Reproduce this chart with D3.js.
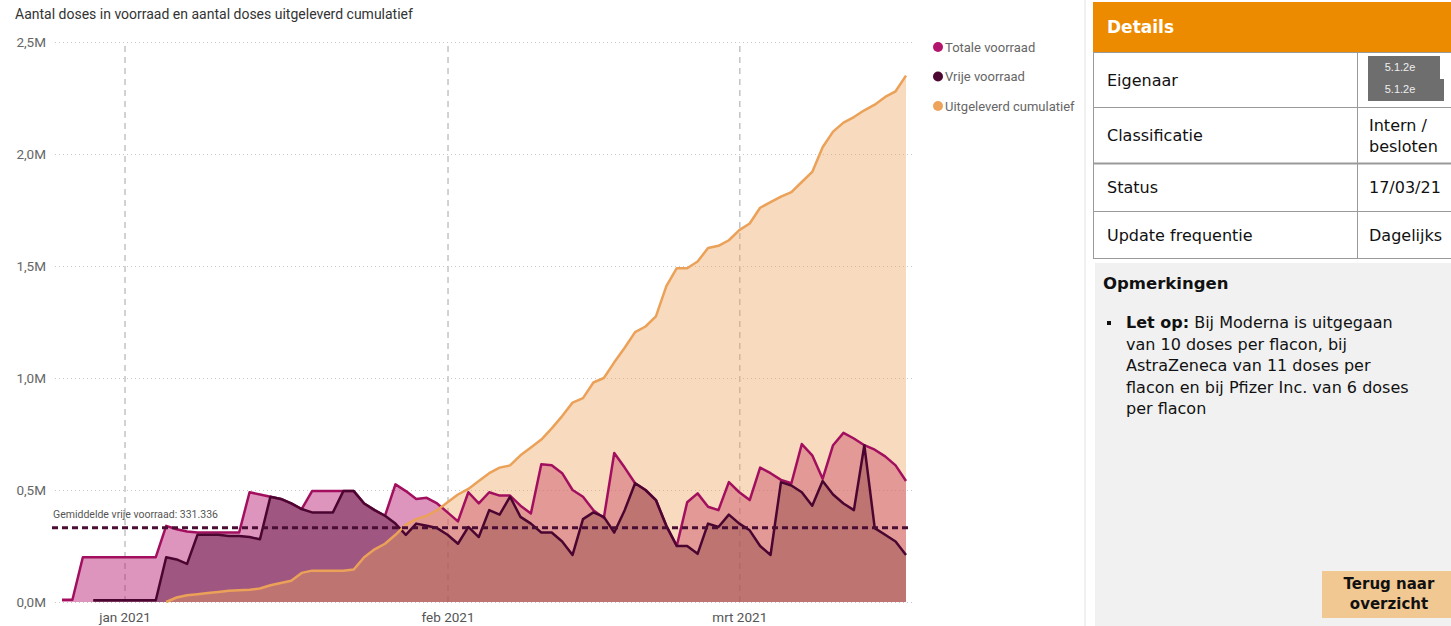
<!DOCTYPE html>
<html>
<head>
<meta charset="utf-8">
<script src="https://cdn.jsdelivr.net/npm/d3@7"></script>
<style>
  body { margin: 0; background: #fff; }
  svg { display: block; }
</style>
</head>
<body>
<div id="chart"></div>
<script>
// daily values, x1000 doses, starting 26 dec 2020
const startDate = new Date(2020, 11, 26);
const totaleVoorraad = [
  10, 10, 200, 200, 200, 200, 200, 200, 200, 200,
  340, 325, 315, 310, 310, 310, 310, 310, 490, 480,
  470, 460, 440, 415, 495, 495, 495, 495, 495, 440,
  410, 385, 525, 495, 460, 465, 440, 400, 360, 490,
  440, 490, 475, 475, 430, 395, 615, 610, 575, 500,
  470, 410, 375, 665, 600, 530, 500, 455, 340, 250,
  445, 485, 425, 410, 535, 490, 455, 600, 575, 545,
  530, 705, 655, 550, 700, 755, 730, 700, 680, 650,
  610, 540
];
const vrijeVoorraad = [
  null, null, null, 8, 8, 8, 8, 8, 8, 8,
  200, 190, 170, 300, 300, 300, 295, 295, 290, 280,
  470, 460, 440, 415, 400, 400, 400, 495, 495, 440,
  410, 385, 350, 300, 350, 340, 330, 300, 260, 335,
  290, 410, 390, 470, 380, 350, 310, 310, 270, 210,
  370, 400, 380, 310, 410, 530, 500, 455, 340, 250,
  250, 215, 350, 335, 390, 350, 320, 250, 210, 535,
  520, 490, 430, 540, 480, 440, 410, 700, 330, 300,
  270, 210
];
const uitgeleverdCumulatief = [
  null, null, null, null, null, null, null, null, null, null,
  0, 20, 30, 35, 40, 45, 50, 52, 55, 60,
  75, 85, 95, 130, 140, 140, 140, 140, 145, 200,
  235, 260, 300, 345, 370, 385, 410, 445, 480, 505,
  540, 575, 600, 610, 655, 690, 725, 775, 830, 890,
  910, 980, 1000, 1070, 1135, 1205, 1230, 1275, 1410, 1490,
  1490, 1520, 1580, 1590, 1615, 1660, 1690, 1760, 1785, 1810,
  1830, 1875, 1920, 2030, 2100, 2140, 2165, 2195, 2220, 2255,
  2280, 2350
];
const gemiddeldeVrij = 331336;

const monthTicks = [new Date(2021, 0, 1), new Date(2021, 1, 1), new Date(2021, 2, 1)];
const monthLabels = ["jan 2021", "feb 2021", "mrt 2021"];
const yTicks = [0, 500000, 1000000, 1500000, 2000000, 2500000];

const seriesNames = ["Totale voorraad", "Vrije voorraad", "Uitgeleverd cumulatief"];
const seriesColors = ["#b3156c", "#4d0733", "#eea35c"];

const detailRows = [
  ["Eigenaar", null],
  ["Classificatie", ["Intern /", "besloten"]],
  ["Status", ["17/03/21"]],
  ["Update frequentie", ["Dagelijks"]]
];

const width = 1451;
const height = 626;
const chartFont = "Roboto, 'Open Sans', sans-serif";
const panelFont = "'DejaVu Sans', Verdana, sans-serif";

const days = totaleVoorraad.map((_, i) => d3.timeDay.offset(startDate, i));
const rows = days.map((d, i) => ({
  date: d,
  totale: totaleVoorraad[i] * 1000,
  vrije: vrijeVoorraad[i] == null ? null : vrijeVoorraad[i] * 1000,
  uit: uitgeleverdCumulatief[i] == null ? null : uitgeleverdCumulatief[i] * 1000
}));

const svg = d3
  .select("#chart")
  .append("svg")
  .attr("width", width)
  .attr("height", height)
  .attr("viewBox", [0, 0, width, height]);

const x = d3.scaleTime().domain([days[0], days[days.length - 1]]).range([62, 906]);
const y = d3.scaleLinear().domain([0, 2500000]).range([602, 42]);

// title
svg.append("text")
  .attr("x", 15).attr("y", 19)
  .attr("font-family", chartFont).attr("font-size", 14)
  .attr("fill", "#333")
  .text("Aantal doses in voorraad en aantal doses uitgeleverd cumulatief");

// y axis + dotted grid
const yAxis = svg.append("g")
  .attr("transform", "translate(55,0)")
  .call(d3.axisLeft(y)
    .tickValues(yTicks)
    .tickSize(-860)
    .tickPadding(9)
    .tickFormat(d => (d / 1e6).toFixed(1).replace(".", ",") + "M"));
yAxis.select(".domain").remove();
yAxis.selectAll("line").attr("stroke", "#c8c8c8").attr("stroke-dasharray", "1,3");
yAxis.selectAll("text")
  .attr("font-family", chartFont).attr("font-size", 13.5).attr("fill", "#666");

// x axis + dashed month grid
const xAxis = svg.append("g")
  .attr("transform", "translate(0,602)")
  .call(d3.axisBottom(x)
    .tickValues(monthTicks)
    .tickSize(-560)
    .tickPadding(10)
    .tickFormat((d, i) => monthLabels[i]));
xAxis.select(".domain").remove();
xAxis.selectAll("line")
  .attr("stroke", "#c4c4c4").attr("stroke-width", 1.5).attr("stroke-dasharray", "6,5");
xAxis.selectAll("text")
  .attr("font-family", chartFont).attr("font-size", 13.5).attr("fill", "#555");

// areas
const keys = ["totale", "vrije", "uit"];
const areaOpacity = [0.45, 0.43, 0.4];
keys.forEach((k, i) => {
  const area = d3.area()
    .defined(d => d[k] != null)
    .x(d => x(d.date))
    .y0(y(0))
    .y1(d => y(d[k]));
  svg.append("path")
    .datum(rows)
    .attr("d", area)
    .attr("fill", seriesColors[i])
    .attr("fill-opacity", areaOpacity[i]);
});

// lines
const lineColors = ["#a30f5f", "#4a0630", "#eba158"];
keys.forEach((k, i) => {
  const line = d3.line()
    .defined(d => d[k] != null)
    .x(d => x(d.date))
    .y(d => y(d[k]));
  svg.append("path")
    .datum(rows)
    .attr("d", line)
    .attr("fill", "none")
    .attr("stroke", lineColors[i])
    .attr("stroke-width", 2.5)
    .attr("stroke-linejoin", "round");
});

// average line
svg.append("line")
  .attr("x1", 52).attr("x2", 912)
  .attr("y1", y(gemiddeldeVrij)).attr("y2", y(gemiddeldeVrij))
  .attr("stroke", "#4a0d33").attr("stroke-width", 3).attr("stroke-dasharray", "6,4");
svg.append("text")
  .attr("x", 53).attr("y", y(gemiddeldeVrij) - 10)
  .attr("font-family", chartFont).attr("font-size", 10.5).attr("fill", "#555")
  .text("Gemiddelde vrije voorraad: " + d3.format(",")(gemiddeldeVrij).replace(/,/g, "."));

// legend
const legend = svg.append("g").selectAll("g")
  .data(seriesNames)
  .join("g")
  .attr("transform", (d, i) => `translate(938,${47 + i * 29.5})`);
legend.append("circle").attr("r", 5).attr("fill", (d, i) => seriesColors[i]);
legend.append("text")
  .attr("x", 7).attr("y", 4.5)
  .attr("font-family", chartFont).attr("font-size", 13).attr("fill", "#666")
  .text(d => d);

// separator of the visual
svg.append("line")
  .attr("x1", 1085).attr("x2", 1085).attr("y1", 0).attr("y2", height)
  .attr("stroke", "#e2e2e2");

// ---- details panel ----
const px0 = 1093, pcol = 1357;
svg.append("rect").attr("x", px0).attr("y", 2).attr("width", width - px0).attr("height", 50).attr("fill", "#ed8b00");
svg.append("text")
  .attr("x", 1107).attr("y", 33)
  .attr("font-family", panelFont).attr("font-size", 17).attr("font-weight", "bold").attr("fill", "#fff")
  .text("Details");

const rowTops = [52, 107, 163, 211, 258];
const table = svg.append("g");
detailRows.forEach((r, i) => {
  const top = rowTops[i], bot = rowTops[i + 1];
  const mid = (top + bot) / 2;
  table.append("text")
    .attr("x", 1107).attr("y", mid + 6)
    .attr("font-family", panelFont).attr("font-size", 16).attr("fill", "#111")
    .text(r[0]);
  if (r[1]) {
    r[1].forEach((t, j) => {
      table.append("text")
        .attr("x", 1369).attr("y", mid + 6 + (j - (r[1].length - 1) / 2) * 21)
        .attr("font-family", panelFont).attr("font-size", 16).attr("fill", "#111")
        .text(t);
    });
  }
});
rowTops.forEach((t, i) => {
  table.append("line")
    .attr("x1", px0).attr("x2", width).attr("y1", t + 0.5).attr("y2", t + 0.5)
    .attr("stroke", "#9a9a9a").attr("stroke-width", i === 2 ? 2 : 1);
});
[px0 + 0.5, pcol + 0.5].forEach(xx => {
  table.append("line")
    .attr("x1", xx).attr("x2", xx).attr("y1", 52).attr("y2", 258)
    .attr("stroke", "#9a9a9a");
});

// redacted owner box
svg.append("rect").attr("x", 1368).attr("y", 56).attr("width", 72).attr("height", 24).attr("fill", "#6e6e6e");
svg.append("rect").attr("x", 1368).attr("y", 79).attr("width", 76).attr("height", 22).attr("fill", "#6e6e6e");
["5.1.2e", "5.1.2e"].forEach((t, j) => {
  svg.append("text")
    .attr("x", 1400).attr("y", 71 + j * 22)
    .attr("text-anchor", "middle")
    .attr("font-family", "'Liberation Sans', Arial, sans-serif").attr("font-size", 11).attr("fill", "#eee")
    .text(t);
});

// remarks
svg.append("rect").attr("x", 1095).attr("y", 263).attr("width", width - 1095).attr("height", height - 263).attr("fill", "#f1f1f1");
svg.append("text")
  .attr("x", 1103).attr("y", 289)
  .attr("font-family", panelFont).attr("font-size", 16.5).attr("font-weight", "bold").attr("fill", "#111")
  .text("Opmerkingen");
svg.append("rect").attr("x", 1107).attr("y", 321).attr("width", 4).attr("height", 4).attr("fill", "#111");
const noteLines = [
  "Bij Moderna is uitgegaan",
  "van 10 doses per flacon, bij",
  "AstraZeneca van 11 doses per",
  "flacon en bij Pfizer Inc. van 6 doses",
  "per flacon"
];
const note = svg.append("text")
  .attr("font-family", panelFont).attr("font-size", 16).attr("fill", "#111");
note.append("tspan").attr("x", 1126).attr("y", 328).attr("font-weight", "bold").text("Let op:");
note.append("tspan").text(" " + noteLines[0]);
noteLines.slice(1).forEach((t, i) => {
  note.append("tspan").attr("x", 1126).attr("y", 328 + (i + 1) * 21.5).text(t);
});

// button
svg.append("rect").attr("x", 1322).attr("y", 571).attr("width", width - 1322).attr("height", 47).attr("fill", "#f2c892");
["Terug naar", "overzicht"].forEach((t, j) => {
  svg.append("text")
    .attr("x", 1389).attr("y", 589 + j * 20)
    .attr("text-anchor", "middle")
    .attr("font-family", panelFont).attr("font-size", 15).attr("font-weight", "bold").attr("fill", "#111")
    .text(t);
});
</script>
</body>
</html>
